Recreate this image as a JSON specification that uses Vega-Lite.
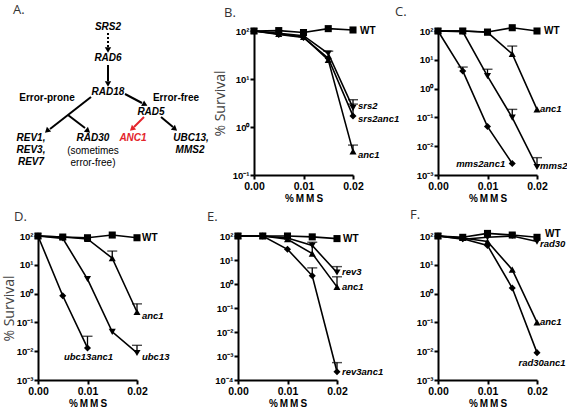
{
"$schema": "https://vega.github.io/schema/vega-lite/v6.json",
"padding": {"left": 2, "top": 4, "right": 0, "bottom": 0},
"config": {
  "view": {"stroke": null},
  "font": "Liberation Sans",
  "axis": {"domainColor": "black", "domainWidth": 2, "tickColor": "black", "tickWidth": 2, "tickSize": 4, "labelFont": "Liberation Sans", "labelFontWeight": "bold", "labelColor": "black", "titleFont": "Liberation Sans", "titleFontWeight": "bold", "titleColor": "black", "grid": false},
  "title": {"font": "Open Sans", "fontSize": 13, "fontWeight": "normal", "color": "#333", "anchor": "start", "frame": "group"}
},
"datasets": {
  "surv": [
    {"p":"B","s":"WT","k":"wt","d":0,"v":100},{"p":"B","s":"WT","k":"wt","d":0.005,"v":102},{"p":"B","s":"WT","k":"wt","d":0.01,"v":93},{"p":"B","s":"WT","k":"wt","d":0.015,"v":112},{"p":"B","s":"WT","k":"wt","d":0.02,"v":105},
    {"p":"B","s":"srs2","k":"single","d":0,"v":100},{"p":"B","s":"srs2","k":"single","d":0.005,"v":90},{"p":"B","s":"srs2","k":"single","d":0.01,"v":80},{"p":"B","s":"srs2","k":"single","d":0.015,"v":34},{"p":"B","s":"srs2","k":"single","d":0.02,"v":2.5},
    {"p":"B","s":"srs2anc1","k":"double","d":0,"v":100},{"p":"B","s":"srs2anc1","k":"double","d":0.005,"v":85},{"p":"B","s":"srs2anc1","k":"double","d":0.01,"v":73},{"p":"B","s":"srs2anc1","k":"double","d":0.015,"v":27},{"p":"B","s":"srs2anc1","k":"double","d":0.02,"v":1.7},
    {"p":"B","s":"anc1","k":"anc1","d":0,"v":100},{"p":"B","s":"anc1","k":"anc1","d":0.005,"v":87},{"p":"B","s":"anc1","k":"anc1","d":0.01,"v":75},{"p":"B","s":"anc1","k":"anc1","d":0.015,"v":25},{"p":"B","s":"anc1","k":"anc1","d":0.02,"v":0.31},

    {"p":"C","s":"WT","k":"wt","d":0,"v":100},{"p":"C","s":"WT","k":"wt","d":0.005,"v":100},{"p":"C","s":"WT","k":"wt","d":0.01,"v":92},{"p":"C","s":"WT","k":"wt","d":0.015,"v":130},{"p":"C","s":"WT","k":"wt","d":0.02,"v":100},
    {"p":"C","s":"anc1","k":"anc1","d":0,"v":100},{"p":"C","s":"anc1","k":"anc1","d":0.005,"v":100},{"p":"C","s":"anc1","k":"anc1","d":0.01,"v":90},{"p":"C","s":"anc1","k":"anc1","d":0.015,"v":16},{"p":"C","s":"anc1","k":"anc1","d":0.02,"v":0.19},
    {"p":"C","s":"mms2","k":"single","d":0,"v":100},{"p":"C","s":"mms2","k":"single","d":0.005,"v":95},{"p":"C","s":"mms2","k":"single","d":0.01,"v":2.7},{"p":"C","s":"mms2","k":"single","d":0.015,"v":0.098},{"p":"C","s":"mms2","k":"single","d":0.02,"v":0.0019},
    {"p":"C","s":"mms2anc1","k":"double","d":0,"v":100},{"p":"C","s":"mms2anc1","k":"double","d":0.005,"v":4.1},{"p":"C","s":"mms2anc1","k":"double","d":0.01,"v":0.048},{"p":"C","s":"mms2anc1","k":"double","d":0.015,"v":0.0025},

    {"p":"D","s":"WT","k":"wt","d":0,"v":100},{"p":"D","s":"WT","k":"wt","d":0.005,"v":92},{"p":"D","s":"WT","k":"wt","d":0.01,"v":87},{"p":"D","s":"WT","k":"wt","d":0.015,"v":108},{"p":"D","s":"WT","k":"wt","d":0.02,"v":87},
    {"p":"D","s":"anc1","k":"anc1","d":0,"v":100},{"p":"D","s":"anc1","k":"anc1","d":0.005,"v":92},{"p":"D","s":"anc1","k":"anc1","d":0.01,"v":79},{"p":"D","s":"anc1","k":"anc1","d":0.015,"v":17},{"p":"D","s":"anc1","k":"anc1","d":0.02,"v":0.23},
    {"p":"D","s":"ubc13","k":"single","d":0,"v":100},{"p":"D","s":"ubc13","k":"single","d":0.005,"v":83},{"p":"D","s":"ubc13","k":"single","d":0.01,"v":3.2},{"p":"D","s":"ubc13","k":"single","d":0.015,"v":0.047},{"p":"D","s":"ubc13","k":"single","d":0.02,"v":0.0087},
    {"p":"D","s":"ubc13anc1","k":"double","d":0,"v":100},{"p":"D","s":"ubc13anc1","k":"double","d":0.005,"v":0.84},{"p":"D","s":"ubc13anc1","k":"double","d":0.01,"v":0.013},

    {"p":"E","s":"WT","k":"wt","d":0,"v":100},{"p":"E","s":"WT","k":"wt","d":0.005,"v":100},{"p":"E","s":"WT","k":"wt","d":0.01,"v":100},{"p":"E","s":"WT","k":"wt","d":0.015,"v":92},{"p":"E","s":"WT","k":"wt","d":0.02,"v":78},
    {"p":"E","s":"anc1","k":"anc1","d":0,"v":100},{"p":"E","s":"anc1","k":"anc1","d":0.005,"v":100},{"p":"E","s":"anc1","k":"anc1","d":0.01,"v":73},{"p":"E","s":"anc1","k":"anc1","d":0.015,"v":18.5},{"p":"E","s":"anc1","k":"anc1","d":0.02,"v":0.76},
    {"p":"E","s":"rev3","k":"single","d":0,"v":100},{"p":"E","s":"rev3","k":"single","d":0.005,"v":100},{"p":"E","s":"rev3","k":"single","d":0.01,"v":82},{"p":"E","s":"rev3","k":"single","d":0.015,"v":40},{"p":"E","s":"rev3","k":"single","d":0.02,"v":3.0},
    {"p":"E","s":"rev3anc1","k":"double","d":0,"v":100},{"p":"E","s":"rev3anc1","k":"double","d":0.005,"v":100},{"p":"E","s":"rev3anc1","k":"double","d":0.01,"v":28},{"p":"E","s":"rev3anc1","k":"double","d":0.015,"v":2.2},{"p":"E","s":"rev3anc1","k":"double","d":0.02,"v":0.00022},

    {"p":"F","s":"WT","k":"wt","d":0,"v":100},{"p":"F","s":"WT","k":"wt","d":0.005,"v":90},{"p":"F","s":"WT","k":"wt","d":0.01,"v":123},{"p":"F","s":"WT","k":"wt","d":0.015,"v":108},{"p":"F","s":"WT","k":"wt","d":0.02,"v":90},
    {"p":"F","s":"rad30","k":"single","d":0,"v":100},{"p":"F","s":"rad30","k":"single","d":0.005,"v":77},{"p":"F","s":"rad30","k":"single","d":0.01,"v":90},{"p":"F","s":"rad30","k":"single","d":0.015,"v":100},{"p":"F","s":"rad30","k":"single","d":0.02,"v":64},
    {"p":"F","s":"anc1","k":"anc1","d":0,"v":100},{"p":"F","s":"anc1","k":"anc1","d":0.005,"v":85},{"p":"F","s":"anc1","k":"anc1","d":0.01,"v":64},{"p":"F","s":"anc1","k":"anc1","d":0.015,"v":6.8},{"p":"F","s":"anc1","k":"anc1","d":0.02,"v":0.1},
    {"p":"F","s":"rad30anc1","k":"double","d":0,"v":100},{"p":"F","s":"rad30anc1","k":"double","d":0.005,"v":80},{"p":"F","s":"rad30anc1","k":"double","d":0.01,"v":47},{"p":"F","s":"rad30anc1","k":"double","d":0.015,"v":1.56},{"p":"F","s":"rad30anc1","k":"double","d":0.02,"v":0.0089}
  ],
  "err": [
    {"p":"B","s":"srs2","d":0.02,"v":2.5,"hi":3.7},{"p":"B","s":"srs2anc1","d":0.02,"v":1.7,"hi":3.0},{"p":"B","s":"anc1","d":0.02,"v":0.31,"hi":0.42},{"p":"B","s":"srs2","d":0.015,"v":34,"hi":38},
    {"p":"C","s":"anc1","d":0.015,"v":16,"hi":30},{"p":"C","s":"mms2","d":0.01,"v":2.7,"hi":4.7},{"p":"C","s":"mms2","d":0.015,"v":0.098,"hi":0.19},{"p":"C","s":"mms2","d":0.02,"v":0.0019,"hi":0.004},{"p":"C","s":"mms2anc1","d":0.005,"v":4.1,"hi":5.6},
    {"p":"D","s":"anc1","d":0.015,"v":17,"hi":30},{"p":"D","s":"anc1","d":0.02,"v":0.23,"hi":0.44},{"p":"D","s":"ubc13","d":0.02,"v":0.0087,"hi":0.016},{"p":"D","s":"ubc13anc1","d":0.01,"v":0.013,"hi":0.033},
    {"p":"E","s":"anc1","d":0.02,"v":0.76,"hi":2.0},{"p":"E","s":"rev3","d":0.02,"v":3.0,"hi":5.3},{"p":"E","s":"rev3anc1","d":0.015,"v":2.2,"hi":4.7},{"p":"E","s":"rev3anc1","d":0.02,"v":0.00022,"hi":0.00053},{"p":"E","s":"anc1","d":0.015,"v":18.5,"hi":55}
  ],
  "lab": [
    {"p":"B","t":"WT","d":0.02,"v":100,"pos":"w"},{"p":"B","t":"srs2","d":0.02,"v":2.7,"pos":"r"},{"p":"B","t":"srs2anc1","d":0.02,"v":1.5,"pos":"r"},{"p":"B","t":"anc1","d":0.02,"v":0.26,"pos":"r"},
    {"p":"C","t":"WT","d":0.02,"v":100,"pos":"w"},{"p":"C","t":"anc1","d":0.02,"v":0.2,"pos":"r"},{"p":"C","t":"mms2","d":0.02,"v":0.002,"pos":"r"},{"p":"C","t":"mms2anc1","d":0.015,"v":0.0025,"pos":"l"},
    {"p":"D","t":"WT","d":0.02,"v":87,"pos":"w"},{"p":"D","t":"anc1","d":0.02,"v":0.17,"pos":"r"},{"p":"D","t":"ubc13","d":0.02,"v":0.0065,"pos":"r"},{"p":"D","t":"ubc13anc1","d":0.01,"v":0.0065,"pos":"b"},
    {"p":"E","t":"WT","d":0.02,"v":78,"pos":"w"},{"p":"E","t":"rev3","d":0.02,"v":3.2,"pos":"r"},{"p":"E","t":"anc1","d":0.02,"v":0.76,"pos":"r"},{"p":"E","t":"rev3anc1","d":0.02,"v":0.00022,"pos":"r"},
    {"p":"F","t":"WT","d":0.02,"v":115,"pos":"w"},{"p":"F","t":"rad30","d":0.02,"v":52,"pos":"r"},{"p":"F","t":"anc1","d":0.02,"v":0.1,"pos":"r"},{"p":"F","t":"rad30anc1","d":0.02,"v":0.0039,"pos":"b"}
  ],
  "dtext": [
    {"t":"SRS2","x":107,"y":27,"st":"g"},{"t":"RAD6","x":107,"y":58,"st":"g"},{"t":"RAD18","x":107,"y":92,"st":"g"},
    {"t":"Error-prone","x":46,"y":98,"st":"b"},{"t":"Error-free","x":175,"y":98,"st":"b"},
    {"t":"RAD5","x":150,"y":112,"st":"g"},
    {"t":"REV1,","x":30,"y":138,"st":"g"},{"t":"REV3,","x":30,"y":150,"st":"g"},{"t":"REV7","x":30,"y":162,"st":"g"},
    {"t":"RAD30","x":92,"y":138,"st":"g"},{"t":"(sometimes","x":92,"y":151,"st":"n"},{"t":"error-free)","x":92,"y":163,"st":"n"},
    {"t":"ANC1","x":132,"y":138,"st":"r"},
    {"t":"UBC13,","x":190,"y":138,"st":"g"},{"t":"MMS2","x":189,"y":150,"st":"g"}
  ],
  "darr": [
    {"x":107,"y":33,"x2":107,"y2":47,"c":"dot"},
    {"x":107,"y":65,"x2":107,"y2":81,"c":"k"},
    {"x":124,"y":94,"x2":141,"y2":103,"c":"k"},
    {"x":90,"y":97,"x2":49,"y2":129,"c":"k"},
    {"x":67,"y":115,"x2":84,"y2":128,"c":"k"},
    {"x":143,"y":117,"x2":133,"y2":127,"c":"red"},
    {"x":160,"y":117,"x2":172,"y2":127,"c":"k"}
  ],
  "dhead": [
    {"x":107,"y":50,"dir":"S","c":"k"},{"x":107,"y":84,"dir":"S","c":"k"},
    {"x":144,"y":104.5,"dir":"ESE","c":"k"},
    {"x":46,"y":131,"dir":"SW","c":"k"},{"x":131,"y":129,"dir":"SW","c":"red"},
    {"x":87,"y":131,"dir":"SE","c":"k"},{"x":174,"y":129,"dir":"SE","c":"k"}
  ]
},
"vconcat": [
 {
  "bounds": "flush",
  "spacing": 85,
  "hconcat": [
  {
    "width": 131, "height": 144,
    "title": {"text": "A.", "dx": -25, "offset": 5},
    "encoding": {
      "x": {"field": "x", "type": "quantitative", "scale": {"domain": [37, 168], "nice": false, "zero": false}, "axis": null},
      "y": {"field": "y", "type": "quantitative", "title": null, "scale": {"domain": [31, 175], "nice": false, "zero": false, "reverse": true}, "axis": {"values": [100], "labels": false, "domain": false, "tickSize": 35, "tickOpacity": 0}}
    },
    "layer": [
      {"data": {"name": "darr"}, "transform": [{"filter": "datum.c != 'dot'"}], "mark": {"type": "rule", "strokeWidth": 2},
       "encoding": {"x2": {"field": "x2"}, "y2": {"field": "y2"}, "color": {"field": "c", "type": "nominal", "scale": {"domain": ["k", "red"], "range": ["black", "#e3242b"]}, "legend": null}}},
      {"data": {"name": "darr"}, "transform": [{"filter": "datum.c == 'dot'"}], "mark": {"type": "rule", "strokeWidth": 2, "strokeDash": [2, 2], "color": "black"},
       "encoding": {"x2": {"field": "x2"}, "y2": {"field": "y2"}}},
      {"data": {"name": "dhead"}, "transform": [{"filter": "datum.dir == 'S'"}], "mark": {"type": "point", "shape": "triangle-up", "filled": true, "opacity": 1, "size": 40, "angle": 180},
       "encoding": {"color": {"field": "c", "type": "nominal", "legend": null}}},
      {"data": {"name": "dhead"}, "transform": [{"filter": "datum.dir == 'ESE'"}], "mark": {"type": "point", "shape": "triangle-up", "filled": true, "opacity": 1, "size": 40, "angle": 118},
       "encoding": {"color": {"field": "c", "type": "nominal", "legend": null}}},
      {"data": {"name": "dhead"}, "transform": [{"filter": "datum.dir == 'SW'"}], "mark": {"type": "point", "shape": "triangle-up", "filled": true, "opacity": 1, "size": 40, "angle": 228},
       "encoding": {"color": {"field": "c", "type": "nominal", "legend": null}}},
      {"data": {"name": "dhead"}, "transform": [{"filter": "datum.dir == 'SE'"}], "mark": {"type": "point", "shape": "triangle-up", "filled": true, "opacity": 1, "size": 40, "angle": 130},
       "encoding": {"color": {"field": "c", "type": "nominal", "legend": null}}},
      {"data": {"name": "dtext"}, "transform": [{"filter": "datum.st == 'g'"}], "mark": {"type": "text", "align": "center", "baseline": "middle", "fontSize": 10, "fontWeight": "bold", "fontStyle": "italic", "color": "black"},
       "encoding": {"text": {"field": "t"}}},
      {"data": {"name": "dtext"}, "transform": [{"filter": "datum.st == 'r'"}], "mark": {"type": "text", "align": "center", "baseline": "middle", "fontSize": 10, "fontWeight": "bold", "fontStyle": "italic", "color": "#e3242b"},
       "encoding": {"text": {"field": "t"}}},
      {"data": {"name": "dtext"}, "transform": [{"filter": "datum.st == 'b'"}], "mark": {"type": "text", "align": "center", "baseline": "middle", "fontSize": 10, "fontWeight": "bold", "color": "black"},
       "encoding": {"text": {"field": "t"}}},
      {"data": {"name": "dtext"}, "transform": [{"filter": "datum.st == 'n'"}], "mark": {"type": "text", "align": "center", "baseline": "middle", "fontSize": 10, "color": "black"},
       "encoding": {"text": {"field": "t"}}}
    ]
  },
  {
    "width": 99, "height": 144,
    "title": {"text": "B.", "dx": -30, "offset": 5},
    "encoding": {
      "x": {"field": "d", "type": "quantitative", "scale": {"domain": [0, 0.02], "nice": false, "zero": false}, "axis": {"values": [0, 0.01, 0.02], "format": ".2f", "labelFlush": false, "title": "%\u2009M\u2009M\u2009S", "labelFontSize": 10.5, "titleFontSize": 10, "labelPadding": 2, "titlePadding": 2}},
      "y": {"field": "v", "type": "quantitative", "title": "% Survival", "scale": {"type": "log", "domain": [0.1, 100], "nice": false}, "axis": {"values": [100, 10, 1, 0.1], "labelExpr": "datum.value > 50 ? '10²' : datum.value > 5 ? '10¹' : datum.value > 0.5 ? '10⁰' : datum.value > 0.05 ? '10⁻¹' : datum.value > 0.005 ? '10⁻²' : datum.value > 0.0005 ? '10⁻³' : '10⁻⁴'", "labelOverlap": false, "labelFontSize": 9.5, "labelPadding": 1, "titleFont": "Open Sans", "titleFontWeight": "normal", "titleFontSize": 14, "titleColor": "#444", "titlePadding": 5}}
    },
    "layer": [
      {"data": {"name": "surv"}, "transform": [{"filter": "datum.p == 'B'"}], "mark": {"type": "line", "color": "black", "strokeWidth": 1.6}, "encoding": {"detail": {"field": "s"}, "order": {"field": "d"}}},
      {"data": {"name": "err"}, "transform": [{"filter": "datum.p == 'B'"}], "mark": {"type": "rule", "color": "black", "strokeWidth": 1.3}, "encoding": {"y2": {"field": "hi"}}},
      {"data": {"name": "err"}, "transform": [{"filter": "datum.p == 'B'"}], "mark": {"type": "tick", "orient": "horizontal", "color": "black", "size": 10, "thickness": 1.4}, "encoding": {"y": {"field": "hi", "type": "quantitative", "title": "% Survival"}}},
      {"data": {"name": "surv"}, "transform": [{"filter": "datum.p == 'B'"}], "mark": {"type": "point", "filled": true, "color": "black", "opacity": 1, "size": 50}, "encoding": {"shape": {"field": "k", "type": "nominal", "scale": {"domain": ["wt", "anc1", "single", "double"], "range": ["square", "triangle-up", "triangle-down", "diamond"]}, "legend": null}}},
      {"data": {"name": "lab"}, "transform": [{"filter": "datum.p == 'B' && datum.pos == 'w'"}], "mark": {"type": "text", "align": "left", "baseline": "middle", "dx": 7, "fontWeight": "bold", "fontSize": 10, "color": "black"}, "encoding": {"text": {"field": "t"}}},
      {"data": {"name": "lab"}, "transform": [{"filter": "datum.p == 'B' && datum.pos == 'r'"}], "mark": {"type": "text", "align": "left", "baseline": "middle", "dx": 5, "fontWeight": "bold", "fontStyle": "italic", "fontSize": 9.5, "color": "black"}, "encoding": {"text": {"field": "t"}}}
    ]
  },
  {
    "width": 99, "height": 144,
    "title": {"text": "C.", "dx": -43, "offset": 5},
    "encoding": {
      "x": {"field": "d", "type": "quantitative", "scale": {"domain": [0, 0.02], "nice": false, "zero": false}, "axis": {"values": [0, 0.01, 0.02], "format": ".2f", "labelFlush": false, "title": "%\u2009M\u2009M\u2009S", "labelFontSize": 10.5, "titleFontSize": 10, "labelPadding": 2, "titlePadding": 2}},
      "y": {"field": "v", "type": "quantitative", "title": null, "scale": {"type": "log", "domain": [0.001, 100], "nice": false}, "axis": {"values": [100, 10, 1, 0.1, 0.01, 0.001], "labelExpr": "datum.value > 50 ? '10²' : datum.value > 5 ? '10¹' : datum.value > 0.5 ? '10⁰' : datum.value > 0.05 ? '10⁻¹' : datum.value > 0.005 ? '10⁻²' : datum.value > 0.0005 ? '10⁻³' : '10⁻⁴'", "labelOverlap": false, "labelFontSize": 9.5, "labelPadding": 1}}
    },
    "layer": [
      {"data": {"name": "surv"}, "transform": [{"filter": "datum.p == 'C'"}], "mark": {"type": "line", "color": "black", "strokeWidth": 1.6}, "encoding": {"detail": {"field": "s"}, "order": {"field": "d"}}},
      {"data": {"name": "err"}, "transform": [{"filter": "datum.p == 'C'"}], "mark": {"type": "rule", "color": "black", "strokeWidth": 1.3}, "encoding": {"y2": {"field": "hi"}}},
      {"data": {"name": "err"}, "transform": [{"filter": "datum.p == 'C'"}], "mark": {"type": "tick", "orient": "horizontal", "color": "black", "size": 10, "thickness": 1.4}, "encoding": {"y": {"field": "hi", "type": "quantitative", "title": null}}},
      {"data": {"name": "surv"}, "transform": [{"filter": "datum.p == 'C'"}], "mark": {"type": "point", "filled": true, "color": "black", "opacity": 1, "size": 50}, "encoding": {"shape": {"field": "k", "type": "nominal", "scale": {"domain": ["wt", "anc1", "single", "double"], "range": ["square", "triangle-up", "triangle-down", "diamond"]}, "legend": null}}},
      {"data": {"name": "lab"}, "transform": [{"filter": "datum.p == 'C' && datum.pos == 'w'"}], "mark": {"type": "text", "align": "left", "baseline": "middle", "dx": 7, "fontWeight": "bold", "fontSize": 10, "color": "black"}, "encoding": {"text": {"field": "t"}}},
      {"data": {"name": "lab"}, "transform": [{"filter": "datum.p == 'C' && datum.pos == 'r'"}], "mark": {"type": "text", "align": "left", "baseline": "middle", "dx": 3, "fontWeight": "bold", "fontStyle": "italic", "fontSize": 9.5, "color": "black"}, "encoding": {"text": {"field": "t"}}},
      {"data": {"name": "lab"}, "transform": [{"filter": "datum.p == 'C' && datum.pos == 'l'"}], "mark": {"type": "text", "align": "right", "baseline": "middle", "dx": -7, "fontWeight": "bold", "fontStyle": "italic", "fontSize": 9.5, "color": "black"}, "encoding": {"text": {"field": "t"}}}
    ]
  }
  ]
 },
 {
  "bounds": "flush",
  "spacing": 101,
  "hconcat": [
  {
    "width": 99, "height": 144,
    "title": {"text": "D.", "dx": -24, "offset": 7},
    "encoding": {
      "x": {"field": "d", "type": "quantitative", "scale": {"domain": [0, 0.02], "nice": false, "zero": false}, "axis": {"values": [0, 0.01, 0.02], "format": ".2f", "labelFlush": false, "title": "%\u2009M\u2009M\u2009S", "labelFontSize": 10.5, "titleFontSize": 10, "labelPadding": 2, "titlePadding": 2}},
      "y": {"field": "v", "type": "quantitative", "title": "% Survival", "scale": {"type": "log", "domain": [0.001, 100], "nice": false}, "axis": {"values": [100, 10, 1, 0.1, 0.01, 0.001], "labelExpr": "datum.value > 50 ? '10²' : datum.value > 5 ? '10¹' : datum.value > 0.5 ? '10⁰' : datum.value > 0.05 ? '10⁻¹' : datum.value > 0.005 ? '10⁻²' : datum.value > 0.0005 ? '10⁻³' : '10⁻⁴'", "labelOverlap": false, "labelFontSize": 9.5, "labelPadding": 1, "titleFont": "Open Sans", "titleFontWeight": "normal", "titleFontSize": 14, "titleColor": "#444", "titlePadding": 0}}
    },
    "layer": [
      {"data": {"name": "surv"}, "transform": [{"filter": "datum.p == 'D'"}], "mark": {"type": "line", "color": "black", "strokeWidth": 1.6}, "encoding": {"detail": {"field": "s"}, "order": {"field": "d"}}},
      {"data": {"name": "err"}, "transform": [{"filter": "datum.p == 'D'"}], "mark": {"type": "rule", "color": "black", "strokeWidth": 1.3}, "encoding": {"y2": {"field": "hi"}}},
      {"data": {"name": "err"}, "transform": [{"filter": "datum.p == 'D'"}], "mark": {"type": "tick", "orient": "horizontal", "color": "black", "size": 10, "thickness": 1.4}, "encoding": {"y": {"field": "hi", "type": "quantitative", "title": "% Survival"}}},
      {"data": {"name": "surv"}, "transform": [{"filter": "datum.p == 'D'"}], "mark": {"type": "point", "filled": true, "color": "black", "opacity": 1, "size": 50}, "encoding": {"shape": {"field": "k", "type": "nominal", "scale": {"domain": ["wt", "anc1", "single", "double"], "range": ["square", "triangle-up", "triangle-down", "diamond"]}, "legend": null}}},
      {"data": {"name": "lab"}, "transform": [{"filter": "datum.p == 'D' && datum.pos == 'w'"}], "mark": {"type": "text", "align": "left", "baseline": "middle", "dx": 5, "fontWeight": "bold", "fontSize": 10, "color": "black"}, "encoding": {"text": {"field": "t"}}},
      {"data": {"name": "lab"}, "transform": [{"filter": "datum.p == 'D' && datum.pos == 'r'"}], "mark": {"type": "text", "align": "left", "baseline": "middle", "dx": 5, "fontWeight": "bold", "fontStyle": "italic", "fontSize": 9.5, "color": "black"}, "encoding": {"text": {"field": "t"}}},
      {"data": {"name": "lab"}, "transform": [{"filter": "datum.p == 'D' && datum.pos == 'b'"}], "mark": {"type": "text", "align": "center", "baseline": "middle", "dx": 1, "fontWeight": "bold", "fontStyle": "italic", "fontSize": 9.5, "color": "black"}, "encoding": {"text": {"field": "t"}}}
    ]
  },
  {
    "width": 99, "height": 144,
    "title": {"text": "E.", "dx": -31, "offset": 7},
    "encoding": {
      "x": {"field": "d", "type": "quantitative", "scale": {"domain": [0, 0.02], "nice": false, "zero": false}, "axis": {"values": [0, 0.01, 0.02], "format": ".2f", "labelFlush": false, "title": "%\u2009M\u2009M\u2009S", "labelFontSize": 10.5, "titleFontSize": 10, "labelPadding": 2, "titlePadding": 2}},
      "y": {"field": "v", "type": "quantitative", "title": null, "scale": {"type": "log", "domain": [0.0001, 100], "nice": false}, "axis": {"values": [100, 10, 1, 0.1, 0.01, 0.001, 0.0001], "labelExpr": "datum.value > 50 ? '10²' : datum.value > 5 ? '10¹' : datum.value > 0.5 ? '10⁰' : datum.value > 0.05 ? '10⁻¹' : datum.value > 0.005 ? '10⁻²' : datum.value > 0.0005 ? '10⁻³' : '10⁻⁴'", "labelOverlap": false, "labelFontSize": 9.5, "labelPadding": 1}}
    },
    "layer": [
      {"data": {"name": "surv"}, "transform": [{"filter": "datum.p == 'E'"}], "mark": {"type": "line", "color": "black", "strokeWidth": 1.6}, "encoding": {"detail": {"field": "s"}, "order": {"field": "d"}}},
      {"data": {"name": "err"}, "transform": [{"filter": "datum.p == 'E'"}], "mark": {"type": "rule", "color": "black", "strokeWidth": 1.3}, "encoding": {"y2": {"field": "hi"}}},
      {"data": {"name": "err"}, "transform": [{"filter": "datum.p == 'E'"}], "mark": {"type": "tick", "orient": "horizontal", "color": "black", "size": 10, "thickness": 1.4}, "encoding": {"y": {"field": "hi", "type": "quantitative", "title": null}}},
      {"data": {"name": "surv"}, "transform": [{"filter": "datum.p == 'E'"}], "mark": {"type": "point", "filled": true, "color": "black", "opacity": 1, "size": 50}, "encoding": {"shape": {"field": "k", "type": "nominal", "scale": {"domain": ["wt", "anc1", "single", "double"], "range": ["square", "triangle-up", "triangle-down", "diamond"]}, "legend": null}}},
      {"data": {"name": "lab"}, "transform": [{"filter": "datum.p == 'E' && datum.pos == 'w'"}], "mark": {"type": "text", "align": "left", "baseline": "middle", "dx": 6, "fontWeight": "bold", "fontSize": 10, "color": "black"}, "encoding": {"text": {"field": "t"}}},
      {"data": {"name": "lab"}, "transform": [{"filter": "datum.p == 'E' && datum.pos == 'r'"}], "mark": {"type": "text", "align": "left", "baseline": "middle", "dx": 5, "fontWeight": "bold", "fontStyle": "italic", "fontSize": 9.5, "color": "black"}, "encoding": {"text": {"field": "t"}}}
    ]
  },
  {
    "width": 99, "height": 144,
    "title": {"text": "F.", "dx": -28, "offset": 7},
    "encoding": {
      "x": {"field": "d", "type": "quantitative", "scale": {"domain": [0, 0.02], "nice": false, "zero": false}, "axis": {"values": [0, 0.01, 0.02], "format": ".2f", "labelFlush": false, "title": "%\u2009M\u2009M\u2009S", "labelFontSize": 10.5, "titleFontSize": 10, "labelPadding": 2, "titlePadding": 2}},
      "y": {"field": "v", "type": "quantitative", "title": null, "scale": {"type": "log", "domain": [0.001, 100], "nice": false}, "axis": {"values": [100, 10, 1, 0.1, 0.01, 0.001], "labelExpr": "datum.value > 50 ? '10²' : datum.value > 5 ? '10¹' : datum.value > 0.5 ? '10⁰' : datum.value > 0.05 ? '10⁻¹' : datum.value > 0.005 ? '10⁻²' : datum.value > 0.0005 ? '10⁻³' : '10⁻⁴'", "labelOverlap": false, "labelFontSize": 9.5, "labelPadding": 1}}
    },
    "layer": [
      {"data": {"name": "surv"}, "transform": [{"filter": "datum.p == 'F'"}], "mark": {"type": "line", "color": "black", "strokeWidth": 1.6}, "encoding": {"detail": {"field": "s"}, "order": {"field": "d"}}},
      {"data": {"name": "surv"}, "transform": [{"filter": "datum.p == 'F'"}], "mark": {"type": "point", "filled": true, "color": "black", "opacity": 1, "size": 50}, "encoding": {"shape": {"field": "k", "type": "nominal", "scale": {"domain": ["wt", "anc1", "single", "double"], "range": ["square", "triangle-up", "triangle-down", "diamond"]}, "legend": null}}},
      {"data": {"name": "lab"}, "transform": [{"filter": "datum.p == 'F' && datum.pos == 'w'"}], "mark": {"type": "text", "align": "left", "baseline": "middle", "dx": 8, "fontWeight": "bold", "fontSize": 10, "color": "black"}, "encoding": {"text": {"field": "t"}}},
      {"data": {"name": "lab"}, "transform": [{"filter": "datum.p == 'F' && datum.pos == 'r'"}], "mark": {"type": "text", "align": "left", "baseline": "middle", "dx": 3, "fontWeight": "bold", "fontStyle": "italic", "fontSize": 9.5, "color": "black"}, "encoding": {"text": {"field": "t"}}},
      {"data": {"name": "lab"}, "transform": [{"filter": "datum.p == 'F' && datum.pos == 'b'"}], "mark": {"type": "text", "align": "center", "baseline": "middle", "dx": 5, "fontWeight": "bold", "fontStyle": "italic", "fontSize": 9.5, "color": "black"}, "encoding": {"text": {"field": "t"}}}
    ]
  }
  ]
 }
],
"spacing": 5
}
